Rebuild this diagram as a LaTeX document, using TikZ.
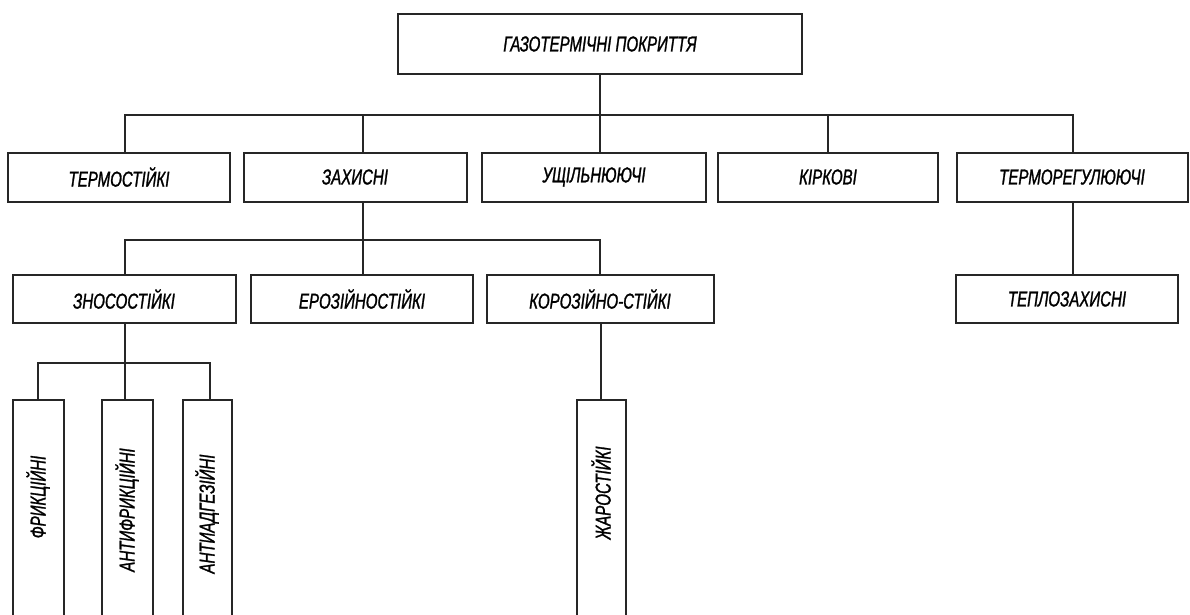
\documentclass[tikz,border=0pt]{standalone}
\usepackage{fontspec}
\newfontfamily\tf[FakeStretch=0.7,FakeBold=1.2]{Liberation Sans}
\newcommand{\tx}{\tf\itshape\fontsize{21.5}{21.5}\selectfont}
\begin{document}
\begin{tikzpicture}[x=1pt,y=-1pt,
  box/.style={draw=black!85, line width=2pt, fill=white, inner sep=0pt, font=\tx},
  hbox/.style={box, minimum height=49pt},
  vbox/.style={box, minimum width=50pt, minimum height=230pt},
  vtext/.style={rotate=90, inner sep=0pt, font=\tx},
  conn/.style={draw=black!85, line width=2pt}]
\useasboundingbox (0,0) rectangle (1190,615);
\clip (0,0) rectangle (1190,615);
\fill[white] (0,0) rectangle (1190,615);
% top
\node[box, minimum width=404pt, minimum height=60pt] (top) at (600,44) {ГАЗОТЕРМІЧНІ ПОКРИТТЯ};
% row 2
\node[hbox, minimum width=222pt] (t1) at (119,177) {ТЕРМОСТІЙКІ};
\node[hbox, minimum width=223pt] (t2) at (355,177) {ЗАХИСНІ};
\node[hbox, minimum width=224pt] (t3) at (594,177) {УЩІЛЬНЮЮЧІ};
\node[hbox, minimum width=220pt] (t4) at (828,177) {КІРКОВІ};
\node[hbox, minimum width=231pt] (t5) at (1072,177) {ТЕРМОРЕГУЛЮЮЧІ};
% row 3
\node[hbox, minimum width=223pt, minimum height=48pt] (s1) at (124,299) {ЗНОСОСТІЙКІ};
\node[hbox, minimum width=222pt, minimum height=48pt] (s2) at (362,299) {ЕРОЗІЙНОСТІЙКІ};
\node[hbox, minimum width=227pt, minimum height=48pt] (s3) at (600,299) {КОРОЗІЙНО-СТІЙКІ};
\node[hbox, minimum width=222pt, minimum height=48pt] (s4) at (1067,299) {ТЕПЛОЗАХИСНІ};
% row 4
\node[vbox, minimum width=51pt] (f1) at (38,515) {};
\node[vbox, minimum width=51pt] (f2) at (127,515) {};
\node[vbox, minimum width=49pt] (f3) at (207,515) {};
\node[vbox, minimum width=49pt] (z1) at (601,515) {};
\node[vtext] (lf1) at (38,497) {ФРИКЦІЙНІ};
\node[vtext] (lf2) at (127,510) {АНТИФРИКЦІЙНІ};
\node[vtext] (lf3) at (207,514) {АНТИАДГЕЗІЙНІ};
\node[vtext] (lz1) at (601,493) {ЖАРОСТІЙКІ};
% connectors level 1
\coordinate (b1) at (600,115);
\draw[conn] (top.south) -- (b1);
\draw[conn] ([xshift=6pt]t1.north) |- (b1) -| ([xshift=1pt]t5.north);
\draw[conn] ([xshift=8pt]t2.north) -- ([xshift=8pt]t2.north |- b1);
\draw[conn] ([xshift=6pt]t3.north) -- ([xshift=6pt]t3.north |- b1);
\draw[conn] (t4.north) -- (t4.north |- b1);
% connectors level 2
\coordinate (b2) at (363,240);
\draw[conn] ([xshift=8pt]t2.south) -- (b2);
\draw[conn] ([xshift=1pt]s1.north) |- (b2) -| (s3.north);
\draw[conn] ([xshift=1pt]s2.north) -- ([xshift=1pt]s2.north |- b2);
\draw[conn] ([xshift=1pt]t5.south) -- ([xshift=6pt]s4.north);
% connectors level 3
\coordinate (b3) at (125,363);
\draw[conn] ([xshift=1pt]s1.south) -- (b3);
\draw[conn] (f1.north) |- (b3) -| ([xshift=3pt]f3.north);
\draw[conn] ([xshift=-2pt]f2.north) -- ([xshift=-2pt]f2.north |- b3);
\draw[conn] (z1.north |- s3.south) -- (z1.north);
\end{tikzpicture}
\end{document}
